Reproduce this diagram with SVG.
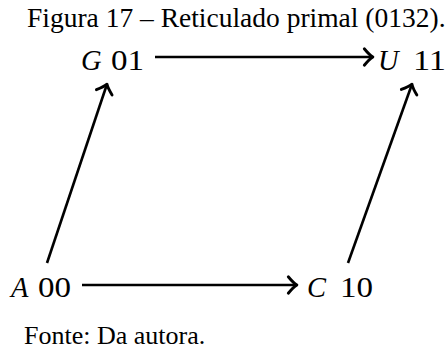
<svg xmlns="http://www.w3.org/2000/svg" width="448" height="349" viewBox="0 0 448 349">
<defs>
<style>
text{font-family:"Liberation Serif","Times New Roman",serif;fill:#000}
.cap{font-size:27.5px}
.src{font-size:26px}
.v{font-size:28.5px;font-style:italic}
.d{font-size:30px}
.edge{stroke:#000;stroke-width:2.6;fill:none;marker-end:url(#ah)}
</style>
<marker id="ah" markerUnits="userSpaceOnUse" markerWidth="20" markerHeight="22" viewBox="-10 -10 12 20" refX="0" refY="0" orient="auto">
<path d="M-7,-7.5 Q-2.5,-2 0.8,0 Q-2.5,2 -7,7.5" stroke="#000" stroke-width="2.6" fill="none" stroke-linecap="round" stroke-linejoin="round"/>
</marker>
</defs>
<rect width="448" height="349" fill="#fff"/>
<text class="cap" x="27" y="27">Figura 17 – Reticulado primal (0132).</text>
<g id="node-G"><text class="v" x="81" y="70">G</text><text class="d" x="111" y="70" textLength="33" lengthAdjust="spacingAndGlyphs">01</text></g>
<g id="node-U"><text class="v" x="378" y="70">U</text><text class="d" x="413" y="70" textLength="33" lengthAdjust="spacingAndGlyphs">11</text></g>
<g id="node-A"><text class="v" x="11" y="297">A</text><text class="d" x="38" y="297" textLength="33" lengthAdjust="spacingAndGlyphs">00</text></g>
<g id="node-C"><text class="v" x="307" y="297">C</text><text class="d" x="340" y="297" textLength="33" lengthAdjust="spacingAndGlyphs">10</text></g>
<g id="connectors">
<line class="edge" x1="155" y1="57" x2="372" y2="57"/>
<line class="edge" x1="82" y1="285" x2="296" y2="285"/>
<line class="edge" x1="47" y1="263" x2="106.7" y2="85"/>
<line class="edge" x1="348" y1="263" x2="411.7" y2="85"/>
</g>
<text class="src" x="24" y="344">Fonte: Da autora.</text>
</svg>
